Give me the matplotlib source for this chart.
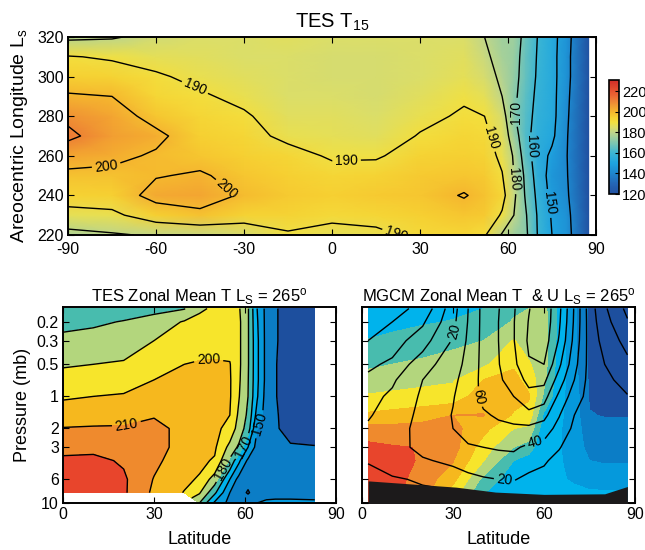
import numpy as np
import matplotlib
matplotlib.use('Agg')
import matplotlib.pyplot as plt
from matplotlib.colors import LinearSegmentedColormap, ListedColormap, BoundaryNorm, Normalize

plt.rcParams['font.family'] = ['Liberation Sans', 'DejaVu Sans']
plt.rcParams['mathtext.fontset'] = 'custom'
plt.rcParams['mathtext.rm'] = 'Liberation Sans'
plt.rcParams['mathtext.it'] = 'Liberation Sans:italic'
plt.rcParams['contour.negative_linestyle'] = 'solid'
plt.rcParams['axes.unicode_minus'] = False

# ---------------- data: TES T15 (latitude x Ls) ----------------
t15_lat = [-90, -75, -60, -45, -30, -15, 0, 15, 30, 45, 52, 58, 62, 66, 70, 75, 80, 87.5]
t15_ls = [220, 230, 240, 250, 260, 270, 280, 290, 300, 310, 320]
t15_by_lat = [
    [177, 187, 194, 198, 204, 212, 208, 201, 195, 190.5, 178],
    [179, 188, 195, 198, 202, 205, 204, 200, 194, 189, 179],
    [181, 195, 203, 199.5, 199, 202, 197, 193, 191, 187, 183],
    [182, 198, 204, 201, 197, 195, 193, 191, 188, 186, 185],
    [184, 194, 199, 197, 195, 193, 191, 188, 186, 185, 185],
    [189, 194, 196, 195, 193, 188, 186, 185, 185, 185, 186],
    [187, 192, 195, 193, 189, 187, 186, 185, 184, 184, 185],
    [188, 193, 196, 194, 189, 186, 185, 184, 184, 184, 185],
    [192, 195, 197, 196, 194, 190.5, 188, 186, 185, 185, 185],
    [193, 197, 200.5, 197, 195, 193, 191, 189, 187, 186, 185],
    [191, 196, 198, 196, 194, 192, 190, 187, 184, 182, 180],
    [179, 189, 193, 190.5, 188, 186, 184, 180, 178, 176, 175],
    [175, 180, 182, 180, 179, 175, 171, 172, 173, 174, 175],
    [172, 171, 169, 168, 165, 163, 164, 165, 166, 166, 167],
    [160, 159.5, 158, 156, 155, 156, 157, 158, 159, 159.5, 160],
    [150, 149, 147, 146, 148, 152, 153, 153, 153, 153, 153],
    [145, 144, 142, 141, 140.5, 141, 142, 143, 144, 144, 145],
    [122, 121, 120, 119, 119, 120, 120, 120, 121, 121, 121],
]
t15_levels = [140, 150, 160, 170, 180, 190, 200, 210]
cbar_ticks = [120, 140, 160, 180, 200, 220]

# ---------------- data: TES zonal mean T (latitude x pressure) ----------------
pres = [0.15, 0.2, 0.3, 0.5, 0.7, 1, 1.5, 2, 3, 4, 6, 8, 10]
tes_lat = [0, 10, 20, 30, 40, 45, 50, 55, 58, 61, 64, 67, 70, 75, 83]
nan = np.nan
tes_by_lat = [
    [171, 177, 183, 189, 194, 199, 205, 210.5, 217, 222, 226, 227, nan],
    [173, 178.5, 184, 190, 195, 200, 206, 211, 218, 222, 224.5, 225, nan],
    [176, 180.5, 186, 191, 196, 201, 207, 211, 215, 219, 221.5, 221.5, nan],
    [178, 183, 190, 196, 200, 204, 209.5, 212, 213, 212, 209.5, 208, nan],
    [179.5, 191, 195, 200, 203, 205, 207, 208, 207, 205, 202, 199.5, nan],
    [189, 192, 196, 201, 203, 204, 205, 205, 204, 202, 199, 191, 180],
    [191, 193, 197, 201, 203, 204, 204, 203, 201.5, 199, 185, 172, 158],
    [194, 195, 197, 200.5, 201, 201, 200, 196, 187, 178, 160, 150, 147],
    [191, 192, 192, 192, 191.5, 190.5, 188, 186, 178, 162, 146, 144, 146],
    [181, 181, 181, 181, 180.5, 180, 178, 175, 160, 148, 143, 139, 147],
    [160, 161, 162, 162, 162, 161, 156, 150, 146, 145, 143, 145, 150],
    [147, 147, 147, 147, 147, 146, 146, 145, 144, 144, 144, 146, 152],
    [141, 141, 141, 140.5, 140.5, 140.5, 141, 141, 142, 143, 144, 147, 152],
    [135, 135, 135, 135, 135, 135, 136, 137, 141, 143, 145, 147, 152],
    [134, 134, 134, 134, 134, 134, 135, 136, 140.5, 143, 145, 148, 151],
]

# ---------------- data: MGCM zonal mean T and U ----------------
gcm_lat = [2, 10, 20, 30, 40, 50, 55, 60, 65, 70, 75, 80, 87.5]
gcm_t_by_lat = [
    [163, 165, 170.5, 178, 185, 191, 202, 214, 223, 224, 225, 225, 225],
    [165, 167, 173, 180, 186.5, 192, 204, 213, 221, 223, 223.5, 223, 223],
    [166.5, 169, 175.5, 182, 188, 193, 207, 213, 219.5, 219, 216, 214, 214],
    [168, 170.5, 178, 184, 189, 195, 210, 213, 214, 210.5, 203, 195, 190],
    [170, 171.5, 180, 188, 200, 205, 210.5, 203, 195, 190.5, 177, 170.5, 167],
    [178, 181, 190.5, 199, 202.5, 203, 199, 190, 180, 170, 164, 162, 162],
    [180, 183, 186, 191, 197, 201, 196, 188, 175, 165, 162, 161, 161],
    [183, 184, 185, 184, 182, 178, 168, 163, 161, 160.5, 160, 160, 160],
    [167, 167, 166, 165, 164, 163, 162, 161, 161, 161, 161, 162, 162],
    [152, 152, 152, 153, 154, 155, 155, 155, 155, 156, 159, 162, 163],
    [138, 138, 138, 138, 138.5, 139, 140.5, 144, 147, 150, 157, 161, 163],
    [135, 135, 135, 135.5, 136, 137, 139.5, 143, 146, 149, 156, 161, 163],
    [135, 135, 135, 135.5, 136, 137, 139.5, 143, 146, 149, 156, 161, 163],
]
u_lat = [2, 10, 20, 30, 35, 40, 45, 50, 55, 60, 65, 70, 75, 80, 87.5]
gcm_u_by_lat = [
    [-55, -48, -40, -25, -14, -7, -2, 3, 7, 1, -6, -8, -8],
    [-46, -40, -30, -15, -3, 4, 9, 12, 13, 8, -2, -5, -6],
    [-35, -23, -8, 12, 20, 23, 25, 26, 25, 18, 2, -3, -4],
    [12, 15, 22, 31, 36, 39, 41, 40, 33, 24, 9, -2, -4],
    [40, 41, 43, 46, 48, 49, 49, 47, 38, 29, 14, 3, 0],
    [66, 66, 66, 66, 66, 65, 57, 50, 40, 31, 18, 8, 4],
    [79, 80, 80, 79, 77, 73, 63, 54, 42, 32, 20, 10, 6],
    [98, 99, 99, 95, 88, 80, 67, 56, 43, 33, 21, 12, 8],
    [119, 121, 123, 118, 106, 92, 74, 55, 36, 26, 16, 11, 9],
    [133, 133, 130, 120, 105, 88, 66, 50, 32, 22, 14, 10, 9],
    [105, 103, 98, 84, 70, 55, 41, 33, 21, 15, 11, 10, 9],
    [58, 57, 54, 47, 40, 30, 20, 16, 12, 10, 9, 8, 8],
    [10, 11, 12, 13, 13, 13, 12, 11, 10, 9, 9, 8, 8],
    [-17, -13, -7, 0, 4, 7, 8, 8, 8, 8, 8, 7, 7],
    [-45, -38, -27, -14, -6, 1, 5, 6, 7, 7, 7, 6, 6],
]
u_levels = [-40, -20, 0, 20, 40, 60, 80, 100, 120]
topo_lat = [2, 31, 44, 60, 80, 87.5]
topo_p = [6.2, 7.1, 7.9, 8.3, 8.2, 7.0]

t_bounds = [100, 140, 150, 160, 170, 180, 190, 200, 210, 220, 260]
t_colors = ['#1d4f9e', '#0b7dc6', '#0599dc', '#00b3ec', '#48bcae', '#b3d67d',
            '#f7e52b', '#f6b81e', '#ef8a2d', '#e8452c']
tes_line_levels = [140, 150, 160, 170, 180, 190, 200, 210, 220]
p_ticks = [0.2, 0.3, 0.5, 1, 2, 3, 6, 10]
p_ticklabels = ['0.2', '0.3', '0.5', '1', '2', '3', '6', '10']

# ---------------- colormaps ----------------
top_anchor_vals = [120, 130, 140, 150, 160, 170, 180, 185, 190, 195, 200, 205, 210, 215, 220, 231]
top_anchor_cols = ['#2250a0', '#2466b6', '#1e86ce', '#1ea4e0', '#3cb6d4', '#80c8b0',
                   '#c0d68a', '#dcde68', '#f3e03e', '#f6d032', '#f5b82e', '#f2a032',
                   '#ee8636', '#ea6a34', '#e65530', '#d22d28']
vmin, vmax = 120, 231
cmap_top = LinearSegmentedColormap.from_list(
    'tes', [((v - vmin) / (vmax - vmin), c) for v, c in zip(top_anchor_vals, top_anchor_cols)])
cmap_disc = ListedColormap(t_colors)
norm_disc = BoundaryNorm(t_bounds, cmap_disc.N)

fig = plt.figure(figsize=(6.45, 5.5), dpi=100)

def style(ax, xpad=3):
    for s in ax.spines.values():
        s.set_linewidth(1.4)
    ax.tick_params(direction='in', length=4, width=0.8, top=True, right=True,
                   labelsize=11.5, pad=3)
    ax.tick_params(axis='x', pad=xpad)

# ---------------- top panel ----------------
ax1 = fig.add_axes([68/645, 1-235/550, 528/645, 198/550])
Z = np.array(t15_by_lat).T
pcm = ax1.pcolormesh(t15_lat, t15_ls, Z, shading='gouraud', cmap=cmap_top,
                     norm=Normalize(vmin, vmax))
cs1 = ax1.contour(t15_lat, t15_ls, Z, levels=t15_levels, colors='k', linewidths=1.0)
ax1.clabel(cs1, fmt='%d', fontsize=10, inline=True, inline_spacing=3,
           manual=[(-77, 256), (-37, 241), (-46, 297), (5, 255.5), (54, 269),
                   (22, 221.5), (62.4, 282), (62.4, 248), (67.5, 264.5), (74.3, 236)])
ax1.set_xlim(-90, 90)
ax1.set_ylim(220, 320)
ax1.set_xticks([-90, -60, -30, 0, 30, 60, 90])
ax1.set_yticks([220, 240, 260, 280, 300, 320])
style(ax1, xpad=5)
ax1.set_ylabel(r'Areocentric Longitude L$_\mathrm{s}$', fontsize=14, labelpad=5)
ax1.set_title(r'TES T$_{15}$', fontsize=14.5, pad=7)

cax = fig.add_axes([609/645, 1-194/550, 10/645, 114/550])
cb = fig.colorbar(pcm, cax=cax, ticks=cbar_ticks)
cb.outline.set_linewidth(1.2)
cb.ax.tick_params(labelsize=10.5, direction='in', length=3, pad=2)

# ---------------- bottom left: TES zonal mean ----------------
ax2 = fig.add_axes([63/645, 1-503/550, 273/645, 196/550])
T2 = np.ma.masked_invalid(np.array(tes_by_lat).T)
ax2.contourf(tes_lat, pres, T2, levels=t_bounds, cmap=cmap_disc, norm=norm_disc)
cs2 = ax2.contour(tes_lat, pres, T2, levels=tes_line_levels, colors='k', linewidths=1.0)
ax2.set_yscale('log')
ax2.set_ylim(10, 0.145)
ax2.set_xlim(0, 90)
ax2.clabel(cs2, fmt='%d', fontsize=10, inline=True, inline_spacing=3,
           manual=[(48, 0.45), (20.8, 1.78), (64.3, 1.77), (60, 3.0), (53.4, 4.9)])
ax2.set_yticks(p_ticks)
ax2.set_yticklabels(p_ticklabels)
ax2.yaxis.set_minor_locator(matplotlib.ticker.NullLocator())
ax2.set_xticks([0, 30, 60, 90])
style(ax2)
ax2.set_ylabel('Pressure (mb)', fontsize=13, labelpad=4)
ax2.set_xlabel('Latitude', fontsize=13, labelpad=6)
ax2.set_title(r'TES Zonal Mean T L$_\mathrm{S}$ = 265$^\mathrm{o}$', fontsize=12, pad=4)

# ---------------- bottom right: MGCM ----------------
ax3 = fig.add_axes([362/645, 1-503/550, 273/645, 196/550])
T3 = np.array(gcm_t_by_lat).T
ax3.contourf(gcm_lat, pres, T3, levels=t_bounds, cmap=cmap_disc, norm=norm_disc)
U3 = np.array(gcm_u_by_lat).T
cs3 = ax3.contour(u_lat, pres, U3, levels=u_levels, colors='k', linewidths=1.0)
ax3.fill_between(topo_lat, topo_p, 10.5, color='#1c1a1b', zorder=3, linewidth=0)
ax3.set_yscale('log')
ax3.set_ylim(10, 0.145)
ax3.set_xlim(0, 90)
ax3.clabel(cs3, fmt='%d', fontsize=10, inline=True, inline_spacing=3,
           manual=[(31, 0.25), (38.4, 1.0), (57, 2.6), (47, 6.1)])
ax3.set_yticks(p_ticks)
ax3.set_yticklabels([])
ax3.yaxis.set_minor_locator(matplotlib.ticker.NullLocator())
ax3.set_xticks([0, 30, 60, 90])
style(ax3)
ax3.set_xlabel('Latitude', fontsize=13, labelpad=6)
ax3.set_title(r'MGCM Zonal Mean T  & U L$_\mathrm{S}$ = 265$^\mathrm{o}$', fontsize=12, pad=4)

fig.savefig('out.png', dpi=100)
